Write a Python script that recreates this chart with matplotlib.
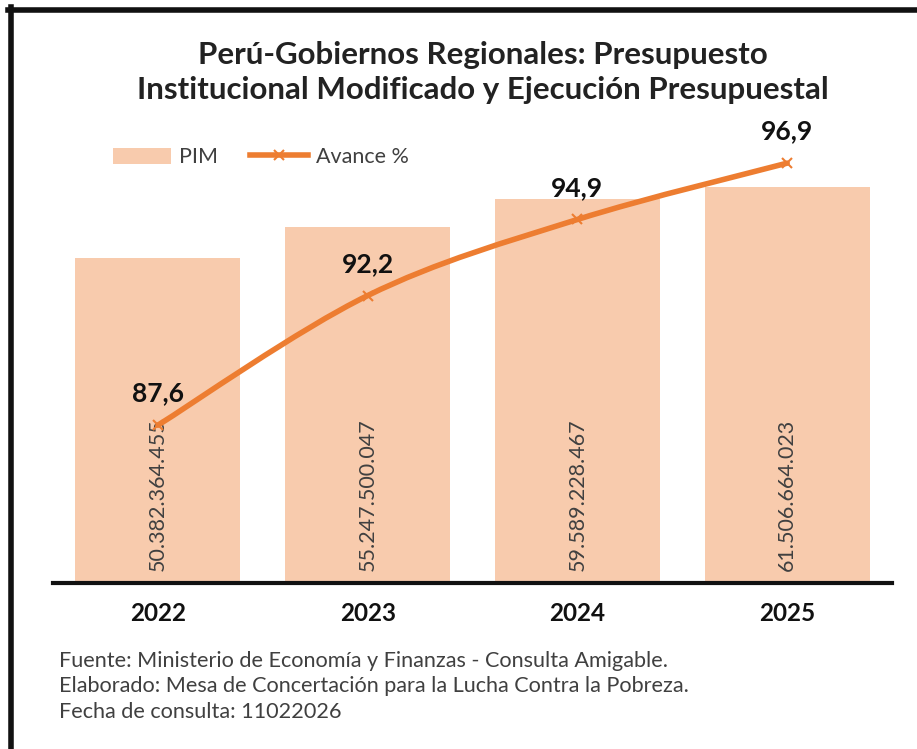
import matplotlib
matplotlib.use("Agg")
import matplotlib.pyplot as plt
from matplotlib.path import Path
from matplotlib.patches import PathPatch, Patch
from matplotlib.lines import Line2D
import numpy as np

years = ["2022", "2023", "2024", "2025"]
pim = [50382364455, 55247500047, 59589228467, 61506664023]
avance = [87.6, 92.2, 94.9, 96.9]
title = "Perú-Gobiernos Regionales: Presupuesto\nInstitucional Modificado y Ejecución Presupuestal"
notes = ["Fuente: Ministerio de Economía y Finanzas - Consulta Amigable.",
         "Elaborado: Mesa de Concertación para la Lucha Contra la Pobreza.",
         "Fecha de consulta: 11022026"]

FONT = "Lato"
BAR = "#F8CBAD"
LINE = "#ED7D31"
plt.rcParams['font.family'] = [FONT, 'DejaVu Sans']

fig = plt.figure(figsize=(9.17, 7.49), dpi=100)
ax = fig.add_axes([0.0578, 0.2216, 0.915, 0.602])
x = np.arange(len(years))
ax.bar(x, [v / 1e9 for v in pim], width=0.786, color=BAR, zorder=1)
ax.set_xlim(-0.5, 3.5)
ax.set_ylim(0, 70)
for s in ["top", "right", "left"]:
    ax.spines[s].set_visible(False)
ax.spines["bottom"].set_linewidth(3)
ax.spines["bottom"].set_color("#111111")
ax.set_yticks([])
ax.set_xticks(x)
ax.set_xticklabels(years, fontsize=17.5, fontweight="bold", color="#111111")
ax.tick_params(axis="x", length=0, pad=14)

def fmt(v):
    return f"{v:,}".replace(",", ".")

for xi, v in zip(x, pim):
    ax.text(xi, 1.9, fmt(v), rotation=90, ha="center", va="bottom",
            fontsize=15.5, color="#404040", zorder=3)

ax2 = ax.twinx()
ax2.set_ylim(82, 98)
ax2.set_xlim(-0.5, 3.5)
ax2.axis("off")

# smooth curve (Bezier, Catmull-Rom style control points from data)
pts = np.column_stack([x, avance]).astype(float)
verts = [tuple(pts[0])]
codes = [Path.MOVETO]
n = len(pts)
for i in range(n - 1):
    p0 = pts[max(i - 1, 0)]
    p1 = pts[i]
    p2 = pts[i + 1]
    p3 = pts[min(i + 2, n - 1)]
    c1 = p1 + (p2 - p0) / 6
    c2 = p2 - (p3 - p1) / 6
    verts += [tuple(c1), tuple(c2), tuple(p2)]
    codes += [Path.CURVE4] * 3
ax2.add_patch(PathPatch(Path(verts, codes), fill=False, edgecolor=LINE,
                        lw=4, capstyle="round", zorder=4))
ax2.plot(x, avance, linestyle="none", marker="x", color=LINE, ms=7, mew=1.5, zorder=5)
for xi, v in zip(x, avance):
    ax2.text(xi, v + 0.7, f"{v:.1f}".replace(".", ","), ha="center", va="bottom",
             fontsize=19, fontweight="bold", color="#111111", zorder=6)

fig.text(0.527, 0.9035, title, ha="center", va="center", fontsize=22.5,
         fontweight="bold", color="#222222", linespacing=1.32)

# legend
handles = [Patch(facecolor=BAR, edgecolor="none"),
           Line2D([0], [0], color=LINE, lw=4, marker="x", ms=7, mew=1.5)]
fig.legend(handles, ["PIM", "Avance %"], loc="center left",
           bbox_to_anchor=(0.102, 0.79), ncol=2, frameon=False, fontsize=15.5,
           handlelength=2.7, handleheight=0.8, columnspacing=1.5, handletextpad=0.35,
           labelcolor="#404040")

for i, t in enumerate(notes):
    fig.text(0.064, 0.117 - i * 0.0335, t, ha="left", va="center", fontsize=15.6,
             color="#404040")

# frame lines
fig.add_artist(Line2D([0.0115, 0.0115], [0, 0.99], transform=fig.transFigure,
                      color="#111111", lw=4))
fig.add_artist(Line2D([0.009, 1.0], [0.9863, 0.9863], transform=fig.transFigure,
                      color="#111111", lw=4))

fig.savefig("out.png", dpi=100, facecolor="white")
